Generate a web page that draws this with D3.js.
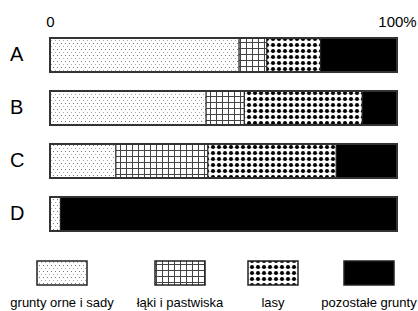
<!DOCTYPE html>
<html>
<head>
<meta charset="utf-8">
<script src="https://cdn.jsdelivr.net/npm/d3@7"></script>
<style>
  html, body { margin: 0; padding: 0; background: #fff; }
  text { font-family: "Liberation Sans", Arial, sans-serif; fill: #000; }
</style>
</head>
<body>
<div id="chart"></div>
<script>
const categories = ["A", "B", "C", "D"];
const seriesNames = ["grunty orne i sady", "łąki i pastwiska", "lasy", "pozostałe grunty"];
const grunty = [54.5, 45, 19, 3];
const laki = [8, 11, 26.5, 0];
const lasy = [15.5, 34, 37, 0];
const pozostale = [22, 10, 17.5, 97];
const tickValues = [0, 100];
const tickLabels = ["0", "100%"];

const WIDTH = 418;
const HEIGHT = 311;
const FILLS = ["url(#p-dots)", "url(#p-grid)", "url(#p-forest)", "#000"];
const LEGEND_X = [62, 180, 273, 369];

const rows = categories.map((c, i) => ({
    cat: c,
    [seriesNames[0]]: grunty[i],
    [seriesNames[1]]: laki[i],
    [seriesNames[2]]: lasy[i],
    [seriesNames[3]]: pozostale[i]
}));

const svg = d3.select("#chart")
    .append("svg")
    .attr("width", WIDTH)
    .attr("height", HEIGHT);

// fill patterns
const defs = svg.append("defs");

const dots = defs.append("pattern")
    .attr("id", "p-dots")
    .attr("patternUnits", "userSpaceOnUse")
    .attr("width", 4).attr("height", 6);
dots.append("rect").attr("width", 4).attr("height", 6).attr("fill", "#fff");
dots.append("rect").attr("x", 1).attr("y", 1).attr("width", 1).attr("height", 1).attr("fill", "#777");
dots.append("rect").attr("x", 3).attr("y", 4).attr("width", 1).attr("height", 1).attr("fill", "#aaa");

const grid = defs.append("pattern")
    .attr("id", "p-grid")
    .attr("patternUnits", "userSpaceOnUse")
    .attr("width", 6).attr("height", 6);
grid.append("rect").attr("width", 6).attr("height", 6).attr("fill", "#fff");
grid.append("rect").attr("x", 0).attr("y", 0).attr("width", 1).attr("height", 6).attr("fill", "#444");
grid.append("rect").attr("x", 0).attr("y", 0).attr("width", 6).attr("height", 1).attr("fill", "#444");

const forest = defs.append("pattern")
    .attr("id", "p-forest")
    .attr("patternUnits", "userSpaceOnUse")
    .attr("width", 6).attr("height", 6);
forest.append("rect").attr("width", 6).attr("height", 6).attr("fill", "#fff");
forest.append("rect").attr("x", 0).attr("y", 3).attr("width", 6).attr("height", 0.6).attr("fill", "#999");
forest.append("circle").attr("cx", 3).attr("cy", 3).attr("r", 2).attr("fill", "#000");

const x = d3.scaleLinear().domain([0, 100]).range([50, 397]);
const y = d3.scaleBand()
    .domain(categories)
    .range([38, 231])
    .paddingInner(0.358)
    .paddingOuter(0);

const stacked = d3.stack().keys(seriesNames)(rows);

// top axis with only 0 and 100%
const axis = d3.axisTop(x)
    .tickValues(tickValues)
    .tickFormat((d, i) => tickLabels[i])
    .tickSize(0)
    .tickPadding(0);
const gAxis = svg.append("g")
    .attr("transform", "translate(0,27)")
    .call(axis);
gAxis.select(".domain").remove();
gAxis.selectAll("text")
    .attr("font-size", 15)
    .attr("font-family", "Liberation Sans, Arial, sans-serif");

// category labels
const yAxis = d3.axisLeft(y).tickSize(0).tickPadding(0);
const gY = svg.append("g")
    .attr("transform", "translate(10,0)")
    .call(yAxis);
gY.select(".domain").remove();
gY.selectAll("text")
    .attr("text-anchor", "start")
    .attr("font-size", 20)
    .attr("font-family", "Liberation Sans, Arial, sans-serif");

// stacked segments
svg.append("g")
    .selectAll("g")
    .data(stacked)
    .join("g")
    .attr("fill", (d, i) => FILLS[i])
    .selectAll("rect")
    .data(d => d)
    .join("rect")
    .attr("x", d => x(d[0]))
    .attr("y", d => y(d.data.cat))
    .attr("width", d => x(d[1]) - x(d[0]))
    .attr("height", y.bandwidth())
    .attr("stroke", d => (d[1] - d[0]) > 0 ? "#222" : "none")
    .attr("stroke-width", 1);

// bar outlines
svg.append("g")
    .selectAll("rect")
    .data(categories)
    .join("rect")
    .attr("x", x(0))
    .attr("y", d => y(d))
    .attr("width", x(100) - x(0))
    .attr("height", y.bandwidth())
    .attr("fill", "none")
    .attr("stroke", "#333")
    .attr("stroke-width", 2);

// legend
const legend = svg.append("g")
    .selectAll("g")
    .data(seriesNames)
    .join("g")
    .attr("transform", (d, i) => `translate(${LEGEND_X[i]},0)`);

legend.append("rect")
    .attr("x", -25)
    .attr("y", 261)
    .attr("width", 50)
    .attr("height", 24)
    .attr("fill", (d, i) => FILLS[i])
    .attr("stroke", "#222")
    .attr("stroke-width", 1.5);

legend.append("text")
    .attr("y", 307)
    .attr("text-anchor", "middle")
    .attr("font-size", 13)
    .text(d => d);
</script>
</body>
</html>
